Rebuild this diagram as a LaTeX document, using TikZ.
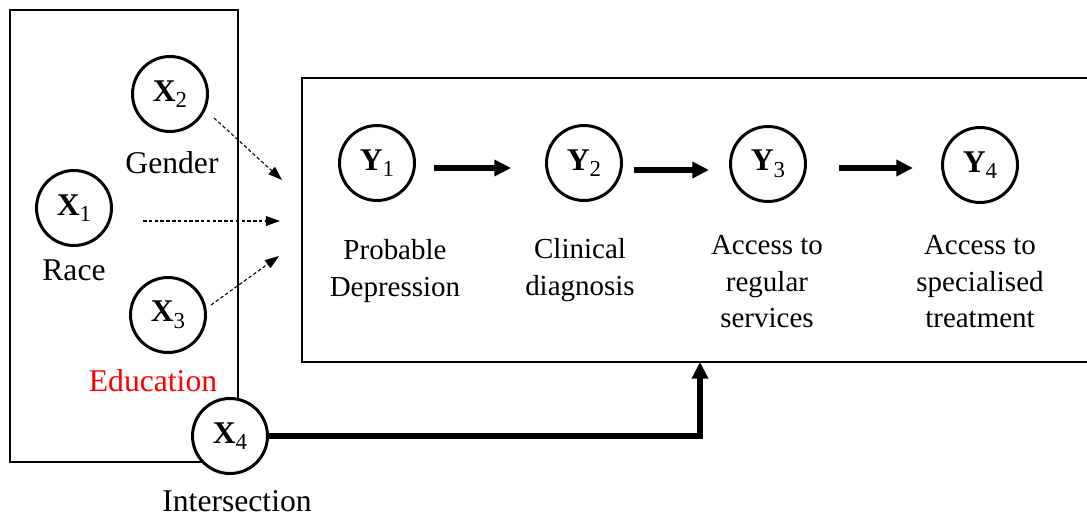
\documentclass[tikz,border=0pt]{standalone}
\usepackage{fontspec}
\setmainfont{Liberation Serif}
\usetikzlibrary{arrows.meta}

\newcommand{\vsub}[2]{\textbf{#1}\raisebox{-0.45ex}{\fontsize{13}{13}\selectfont #2}}

\begin{document}
\begin{tikzpicture}[x=0.02cm, y=-0.02cm,
	var/.style={draw, circle, fill=white, line width=1.7pt, minimum size=1.5cm, inner sep=0pt, font=\fontsize{18}{20}\selectfont},
	lbl/.style={font=\fontsize{18}{21}\selectfont, align=center},
	rlbl/.style={font=\fontsize{16.5}{20.8}\selectfont, align=center},
	dsh/.style={dash pattern=on 2pt off 1.3pt, line width=0.6pt, -{Triangle[length=8pt,width=5.5pt]}},
	thk/.style={line width=3.3pt, -{Triangle[length=9.5pt,width=9pt]}}]

	\useasboundingbox (0,0) rectangle (1087,520);

	% boxes
	\draw[line width=1.1pt] (10,10) rectangle (238,462);
	\draw[line width=1.4pt] (1087,78) -- (302,78) -- (302,362) -- (1087,362);

	% left side
	\node[var] (x2) at (170,94) {\vsub{X}{2}};
	\node[var] (x1) at (74,208) {\vsub{X}{1}};
	\node[var] (x3) at (168,315) {\vsub{X}{3}};
	\node[var] (x4) at (230,436) {\vsub{X}{4}};

	\node[lbl] (gender) at (172,163) {Gender};
	\node[lbl] (race) at (74,270) {Race};
	\node[lbl, text=red] (educ) at (153,381) {Education};
	\node[lbl] (inter) at (237,501) {Intersection};

	\coordinate (s1) at (143,221);
	\coordinate (t1) at (280,221);
	\coordinate (s2) at (214,118);
	\coordinate (t2) at (282,180);
	\coordinate (s3) at (211,305);
	\coordinate (t3) at (279,256);
	\coordinate (hit) at (700,362);

	\draw[dsh] (s2) -- (t2);
	\draw[dsh] (s1) -- (t1);
	\draw[dsh] (s3) -- (t3);

	% right side
	\node[var] (y1) at (377,163) {\vsub{Y}{1}};
	\node[var] (y2) at (584,163) {\vsub{Y}{2}};
	\node[var] (y3) at (768,164) {\vsub{Y}{3}};
	\node[var] (y4) at (980,165) {\vsub{Y}{4}};

	\node[rlbl] (prob) at (395,271) {Probable\\Depression};
	\node[rlbl] (clin) at (580,270) {Clinical\\diagnosis};
	\node[rlbl] (reg) at (767,282) {Access to\\regular\\services};
	\node[rlbl] (spec) at (980,282) {Access to\\specialised\\treatment};

	\draw[thk] ([shift={(18,5)}]y1.east) -- ([shift={(-34,5)}]y2.west);
	\draw[thk] ([shift={(11,7)}]y2.east) -- ([shift={(-20,6)}]y3.west);
	\draw[thk] ([shift={(32,4)}]y3.east) -- ([shift={(-28,3)}]y4.west);

	\draw[thk, line join=miter] (x4) -| (hit);

\end{tikzpicture}
\end{document}
